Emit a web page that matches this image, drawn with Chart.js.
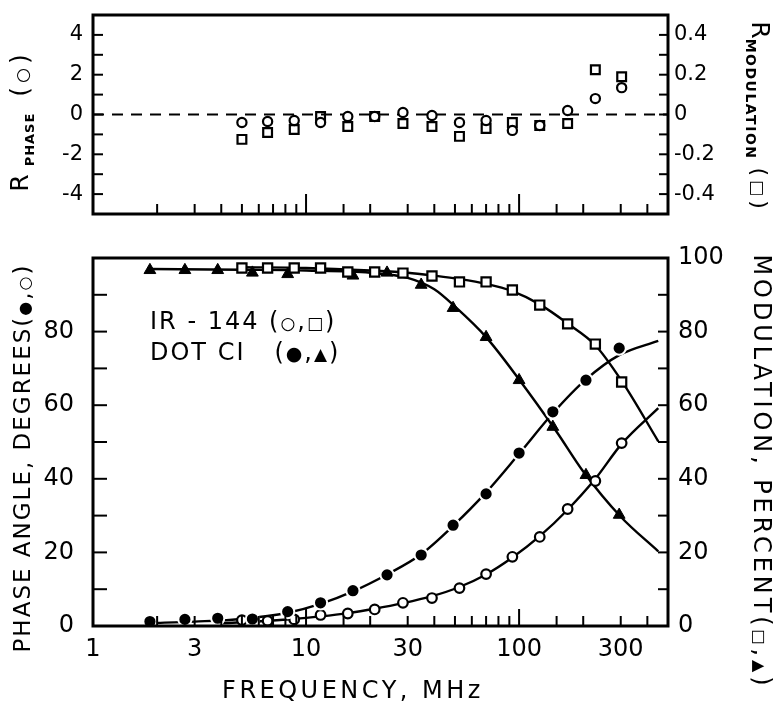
<!DOCTYPE html>
<html><head><meta charset="utf-8">
<script src="https://cdn.jsdelivr.net/npm/chart.js@4.4.0/dist/chart.umd.min.js"></script>
<style>
html,body{margin:0;padding:0;background:#fff;}
#wrap{position:relative;width:781px;height:706px;overflow:hidden;font-family:"DejaVu Sans",sans-serif;color:#000;}
canvas{position:absolute;left:0;}
.t{position:absolute;white-space:nowrap;line-height:1;z-index:2;}
.rot{transform:translate(-50%,-50%) rotate(-90deg);}
.rotr{transform:translate(-50%,-50%) rotate(90deg);}
.ctr{transform:translate(-50%,-50%);}
.sub{font-size:13px;font-weight:bold;letter-spacing:1px;position:relative;top:6px;}
</style></head><body>
<div id="wrap">
<canvas id="cTop" width="781" height="232" style="top:0;width:781px;height:232px"></canvas>
<canvas id="cBot" width="781" height="466" style="top:240px;width:781px;height:466px"></canvas>

<div class="t rot" style="left:19px;top:121px;font-size:25px;">R<span class="sub" style="margin-left:8px;">PHASE</span><span style="margin-left:16px;letter-spacing:4px;">(<span style="font-size:17px;">○</span>)</span></div>
<div class="t rotr" style="left:760px;top:117px;font-size:25px;">R<span class="sub" style="letter-spacing:1.5px;font-size:14px;">MODULATION</span><span style="margin-left:8px;letter-spacing:4px;font-size:22px;">(<span style="font-size:17px;">□</span>)</span></div>

<div class="t" style="left:150px;top:309px;font-size:24px;letter-spacing:2px;">IR - 144 (<span style="font-size:17px;">○</span>,<span style="font-size:17px;">□</span>)</div>
<div class="t" style="left:150px;top:340px;font-size:24px;letter-spacing:2px;">DOT CI&nbsp;&nbsp; (<span style="font-size:19px;">●</span>,<span style="font-size:17px;">▲</span>)</div>

<div class="t rot" style="left:22px;top:458px;font-size:23px;letter-spacing:2px;">PHASE ANGLE, DEGREES(<span style="font-size:16px;">●</span>,<span style="font-size:16px;">○</span>)</div>
<div class="t rotr" style="left:762px;top:472px;font-size:24px;letter-spacing:3.9px;">MODULATION, PERCENT(<span style="font-size:16px;">□</span>,<span style="font-size:16px;">▲</span>)</div>
<div class="t ctr" style="left:353px;top:690px;font-size:24px;letter-spacing:3.5px;">FREQUENCY, MHz</div>
</div>
<script>
// ---- data ----
const xTickLabels = [1, 3, 10, 30, 100, 300];

// IR-144 (open symbols)
const irFreq  = [5, 6.6, 8.8, 11.7, 15.7, 21, 28.5, 39, 52.5, 70, 93, 125, 169, 228, 303];
const irPhase = [1.6, 1.4, 1.8, 3.0, 3.4, 4.5, 6.3, 7.6, 10.3, 14.1, 18.8, 24.2, 31.8, 39.4, 49.7];
const irMod   = [97.3, 97.3, 97.3, 97.3, 96.2, 96.2, 95.9, 95.1, 93.5, 93.5, 91.3, 87.2, 82.1, 76.6, 66.3];

// DOT CI (filled symbols)
const dotFreq  = [1.85, 2.7, 3.85, 5.6, 8.2, 11.7, 16.6, 24, 34.7, 49, 70, 100, 144, 206, 295];
const dotPhase = [1.2, 1.8, 2.1, 1.9, 3.9, 6.3, 9.6, 13.9, 19.3, 27.4, 35.9, 47.0, 58.2, 66.8, 75.5];
const dotMod   = [96.7, 96.7, 96.7, 96.0, 95.6, null, 95.2, 96.0, 92.7, 86.4, 78.5, 66.8, 54.1, 41.0, 30.2];

// fitted curves
const fitIrPhaseF  = [4, 5, 8.8, 11.7, 15.7, 21, 28.5, 39, 52.5, 70, 93, 125, 169, 228, 303, 450];
const fitIrPhase   = [0.7, 1.0, 1.9, 2.6, 3.5, 4.7, 6.2, 8.1, 10.6, 14.0, 18.6, 24.4, 31.6, 40.0, 49.5, 59.2];
const fitIrModF    = [5, 10, 20, 30, 40, 52.5, 70, 93, 125, 169, 228, 303, 450];
const fitIrMod     = [97.5, 97.3, 96.6, 96.0, 95.2, 94.3, 93.0, 91.0, 87.4, 82.2, 76.3, 66.6, 50.2];
const fitDotPhaseF = [1.85, 3, 5, 8.2, 11.7, 16.6, 24, 34.7, 49, 70, 100, 144, 206, 295, 450];
const fitDotPhase  = [0.8, 1.2, 1.9, 3.6, 6.0, 9.4, 14.0, 19.5, 27.2, 36.3, 46.8, 57.8, 67.0, 73.6, 77.5];
const fitDotModF   = [1.85, 5, 10, 20, 30, 40, 50, 70, 100, 150, 200, 300, 450];
const fitDotMod    = [97.0, 96.8, 96.6, 96.0, 94.6, 91.5, 86.8, 78.5, 67.0, 52.8, 42.0, 29.7, 20.3];

// residuals (top panel), at IR-144 frequencies
const resPhase = [-0.4, -0.35, -0.3, -0.4, -0.1, -0.1, 0.1, -0.05, -0.4, -0.3, -0.8, -0.55, 0.2, 0.8, 1.35];
const resMod   = [-0.125, -0.09, -0.075, -0.01, -0.06, -0.01, -0.045, -0.06, -0.11, -0.07, -0.04, -0.055, -0.045, 0.225, 0.19];
const zeroLineX = [1, 500];
const zeroLineY = [0, 0];

// ---- helpers ----
const pts = (xs, ys) => xs.map((x, i) => ({x: x, y: ys[i]}));
Chart.defaults.font.family = '"DejaVu Sans", sans-serif';
Chart.defaults.color = '#000';

const frameTicks = {
  id: 'frameTicks',
  afterDraw(chart, args, o) {
    const ctx = chart.ctx, a = chart.chartArea;
    ctx.save();
    ctx.strokeStyle = '#000';
    ctx.lineWidth = o.tickWidth;
    for (const id in chart.scales) {
      const s = chart.scales[id];
      for (const t of s.ticks) {
        const v = t.value;
        if (Math.abs(v - s.min) < 1e-9 || Math.abs(v - s.max) < 1e-9) continue;
        const p = s.getPixelForValue(v);
        ctx.beginPath();
        if (s.axis === 'x') {
          const lg = Math.log10(v);
          const L = Math.abs(lg - Math.round(lg)) < 1e-6 ? o.xMajor : o.xMinor;
          ctx.moveTo(p, a.bottom); ctx.lineTo(p, a.bottom - L);
        } else if (s.position === 'left') {
          ctx.moveTo(a.left, p); ctx.lineTo(a.left + o.yLeft, p);
        } else {
          ctx.moveTo(a.right, p); ctx.lineTo(a.right - o.yRight, p);
        }
        ctx.stroke();
      }
    }
    ctx.lineWidth = o.frameWidth;
    ctx.strokeRect(a.left, a.top, a.right - a.left, a.bottom - a.top);
    ctx.restore();
  }
};

const noGrid = {display: false, drawTicks: false};
const noBorder = {display: false};
const fixY = w => s => { s.width = w; s.paddingTop = 0; s.paddingBottom = 0; };

// ---- top panel ----
new Chart(document.getElementById('cTop'), {
  type: 'scatter',
  data: {
    datasets: [
      {data: pts(irFreq, resPhase), yAxisID: 'yL', pointStyle: 'circle',
       pointRadius: 4.6, borderColor: '#000', backgroundColor: '#fff', borderWidth: 2.2, order: 0},
      {data: pts(irFreq, resMod), yAxisID: 'yR', pointStyle: 'rect',
       pointRadius: 6.2, borderColor: '#000', backgroundColor: 'rgba(255,255,255,0)', borderWidth: 2.2, order: 0},
      {data: pts(zeroLineX, zeroLineY), yAxisID: 'yL', showLine: true, pointRadius: 0,
       borderColor: '#000', borderWidth: 2.2, borderDash: [11, 8], order: 2}
    ]
  },
  options: {
    responsive: false, animation: false,
    layout: {padding: {top: 15, left: 0, right: 0, bottom: 0}},
    plugins: {legend: {display: false}, tooltip: {enabled: false},
      frameTicks: {tickWidth: 2, xMajor: 20, xMinor: 10, yLeft: 10, yRight: 9, frameWidth: 3}},
    scales: {
      x: {type: 'logarithmic', min: 1, max: 500, grid: noGrid, border: noBorder,
          ticks: {display: false, autoSkip: false},
          afterFit: s => { s.height = 18; }},
      yL: {type: 'linear', position: 'left', min: -5, max: 5, grid: noGrid, border: noBorder,
           ticks: {stepSize: 1, autoSkip: false, padding: 10, font: {size: 21},
                   callback: v => { const k = Math.round(v); return (k % 2 === 0 && Math.abs(k) < 5) ? String(k) : ''; }},
           afterFit: fixY(93)},
      yR: {type: 'linear', position: 'right', min: -0.5, max: 0.5, grid: noGrid, border: noBorder,
           ticks: {stepSize: 0.1, autoSkip: false, padding: 6, font: {size: 21},
                   callback: v => { const k = Math.round(v * 10); return (k % 2 === 0 && Math.abs(k) < 5) ? (k === 0 ? '0' : (k / 10).toFixed(1)) : ''; }},
           afterFit: fixY(113)}
    }
  },
  plugins: [frameTicks]
});

// ---- bottom panel ----
const lineDs = (xs, ys, axis) => ({data: pts(xs, ys), yAxisID: axis, showLine: true, pointRadius: 0,
  borderColor: '#000', borderWidth: 2.4, cubicInterpolationMode: 'monotone', order: 2});

new Chart(document.getElementById('cBot'), {
  type: 'scatter',
  data: {
    datasets: [
      lineDs(fitDotPhaseF, fitDotPhase, 'yL'),
      lineDs(fitIrPhaseF, fitIrPhase, 'yL'),
      lineDs(fitIrModF, fitIrMod, 'yR'),
      lineDs(fitDotModF, fitDotMod, 'yR'),
      {data: pts(dotFreq, dotPhase), yAxisID: 'yL', pointStyle: 'circle', pointRadius: 6.6,
       backgroundColor: '#000', borderColor: '#fff', borderWidth: 2, order: 0},
      {data: pts(irFreq, irPhase), yAxisID: 'yL', pointStyle: 'circle', pointRadius: 4.8,
       backgroundColor: '#fff', borderColor: '#000', borderWidth: 2.2, order: 0},
      {data: pts(irFreq, irMod), yAxisID: 'yR', pointStyle: 'rect', pointRadius: 6.5,
       backgroundColor: '#fff', borderColor: '#000', borderWidth: 2.2, order: 0},
      {data: pts(dotFreq, dotMod), yAxisID: 'yR', pointStyle: 'triangle', pointRadius: 6.8,
       backgroundColor: '#000', borderColor: '#000', borderWidth: 1, order: 0}
    ]
  },
  options: {
    responsive: false, animation: false,
    layout: {padding: {top: 18, left: 0, right: 0, bottom: 0}},
    plugins: {legend: {display: false}, tooltip: {enabled: false},
      frameTicks: {tickWidth: 2, xMajor: 17, xMinor: 10, yLeft: 14, yRight: 10, frameWidth: 3}},
    scales: {
      x: {type: 'logarithmic', min: 1, max: 500, grid: noGrid, border: noBorder,
          ticks: {autoSkip: false, maxRotation: 0, minRotation: 0, padding: 9, font: {size: 24},
                  callback: v => xTickLabels.some(l => Math.abs(l - v) < 1e-6) ? String(Math.round(v)) : ''},
          afterFit: s => { s.height = 80; }},
      yL: {type: 'linear', position: 'left', min: 0, max: 100, grid: noGrid, border: noBorder,
           ticks: {stepSize: 10, autoSkip: false, padding: 19, font: {size: 24},
                   callback: v => (Math.round(v) % 20 === 0 && v < 100) ? String(Math.round(v)) : ''},
           afterFit: fixY(93)},
      yR: {type: 'linear', position: 'right', min: 0, max: 100, grid: noGrid, border: noBorder,
           ticks: {stepSize: 10, autoSkip: false, padding: 10, font: {size: 24},
                   callback: v => (Math.round(v) % 20 === 0) ? String(Math.round(v)) : ''},
           afterFit: fixY(113)}
    }
  },
  plugins: [frameTicks]
});
</script>
</body></html>
